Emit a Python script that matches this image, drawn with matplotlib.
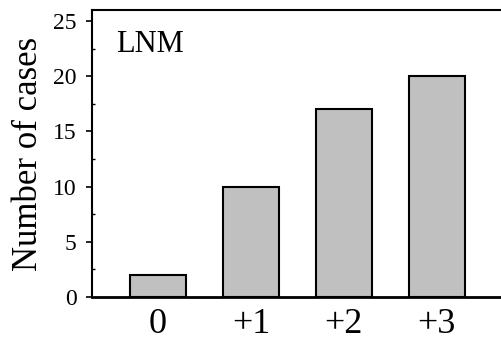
import matplotlib
matplotlib.use('Agg')
import matplotlib.pyplot as plt
from matplotlib.ticker import MultipleLocator

# 値は図から読み取り
categories = ['0', '+1', '+2', '+3']
cases = [2, 10, 17, 20]
panel_label = 'LNM'

plt.rcParams['font.family'] = ['Liberation Serif', 'DejaVu Serif']


def main():
    fig = plt.figure(figsize=(5.01, 3.45), dpi=100)
    ax = fig.add_axes([0.1836, 0.139, 0.8164, 0.832])

    x = range(len(categories))
    ax.bar(x, cases, width=0.6, color='#c0c0c0', edgecolor='black', linewidth=1.5, zorder=2)

    ax.set_xlim(-0.71, 3.69)
    ax.set_ylim(0, 26)
    ax.set_xticks(list(x))
    ax.set_xticklabels(categories, fontsize=26)
    ax.tick_params(axis='x', length=0, pad=8)

    ax.yaxis.set_major_locator(MultipleLocator(5))
    ax.yaxis.set_minor_locator(MultipleLocator(2.5))
    ax.tick_params(axis='y', which='major', direction='out', length=4, width=1.2, labelsize=17, pad=7)
    ax.tick_params(axis='y', which='minor', direction='in', length=2, width=1)

    ax.spines['right'].set_visible(False)
    ax.spines['left'].set_linewidth(1.5)
    ax.spines['top'].set_linewidth(1.5)
    ax.spines['bottom'].set_linewidth(2)

    ax.set_ylabel('Number of cases', fontsize=25, labelpad=6)
    ax.text(0.06, 0.93, panel_label, transform=ax.transAxes, fontsize=22, va='top', ha='left')

    fig.savefig('out.png', dpi=100)


if __name__ == '__main__':
    main()
